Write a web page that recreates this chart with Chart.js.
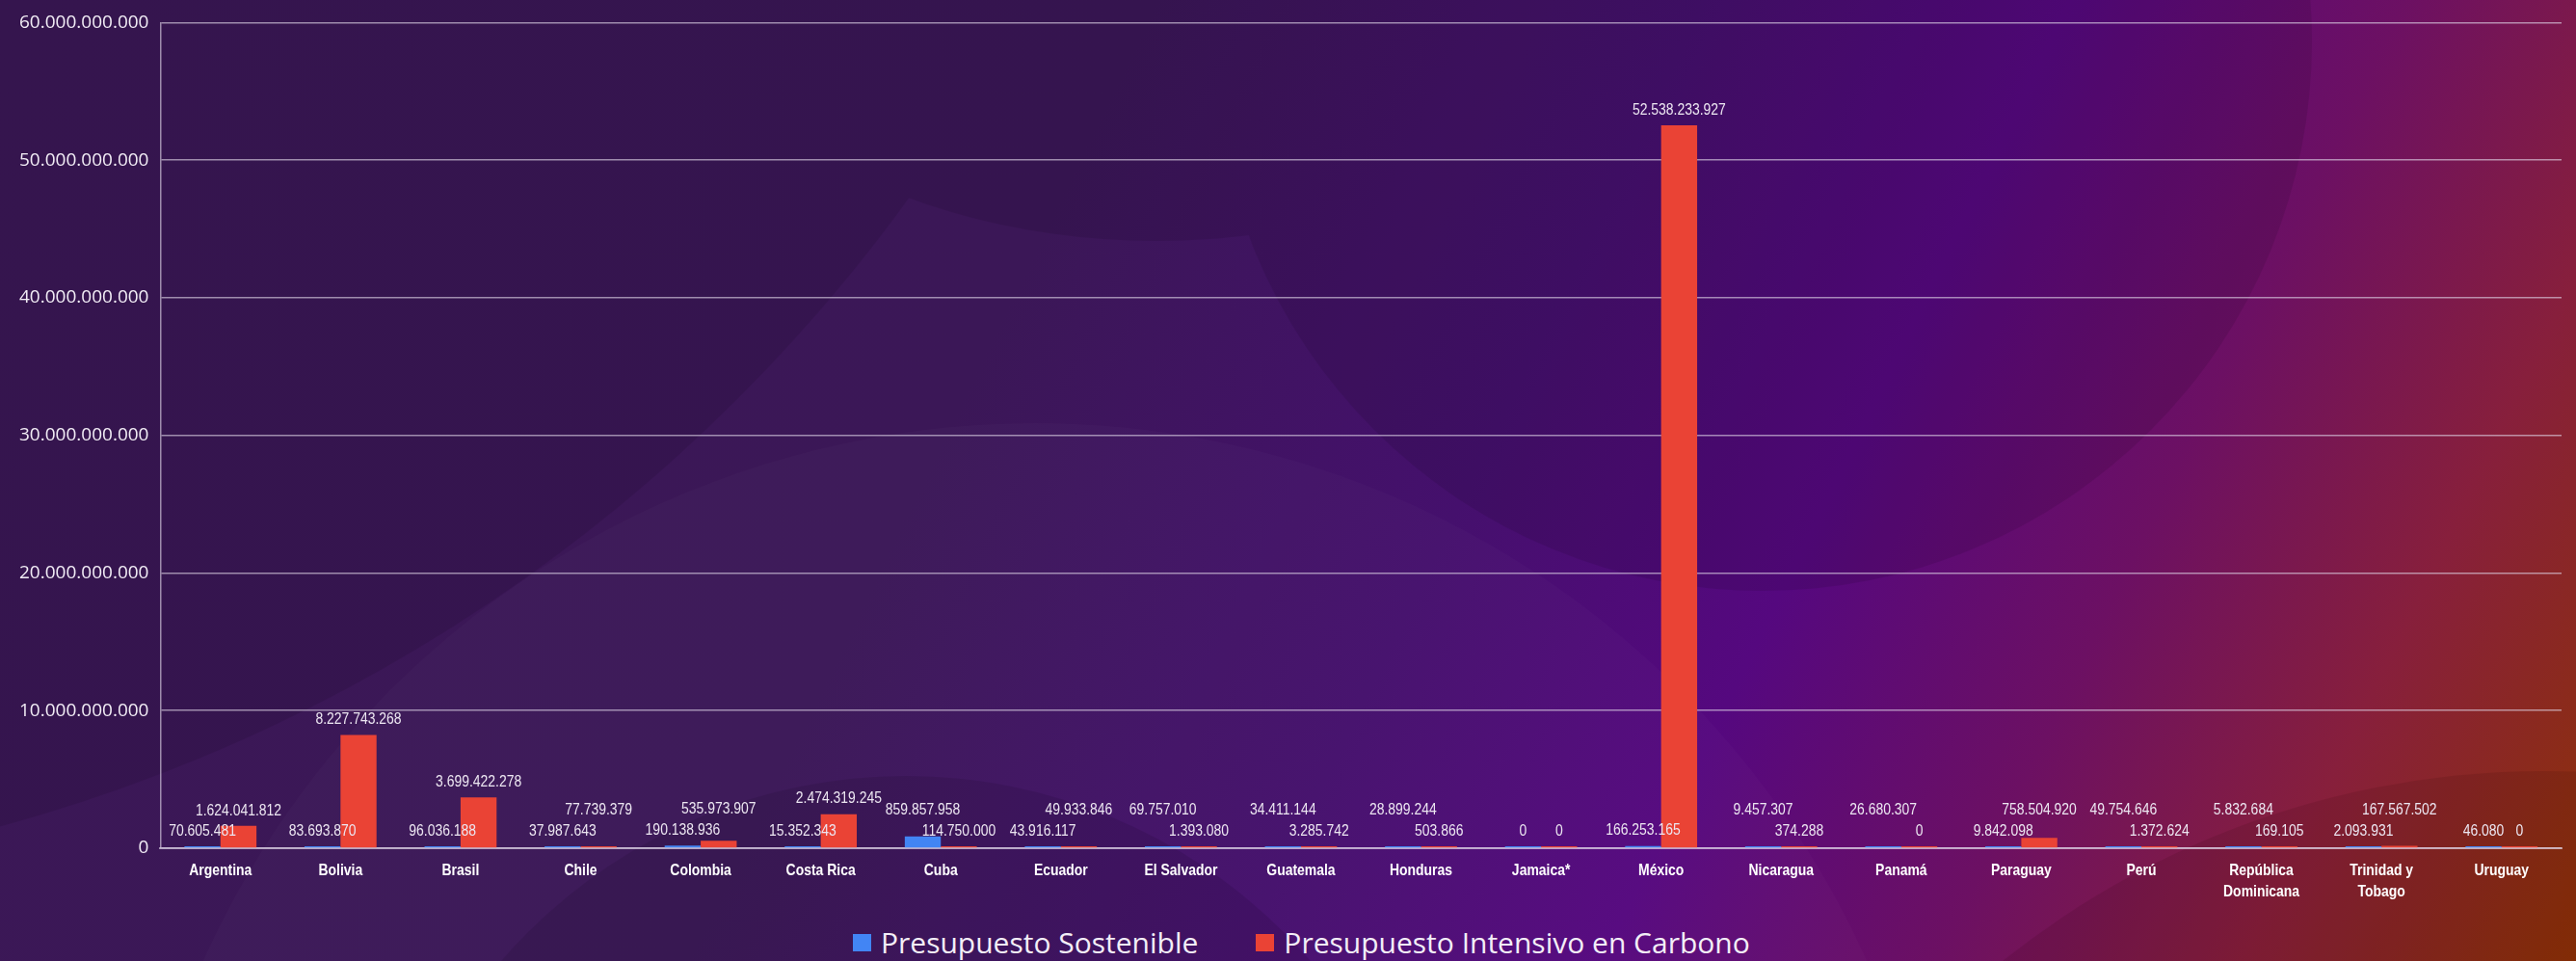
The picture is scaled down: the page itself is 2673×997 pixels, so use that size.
<!DOCTYPE html>
<html lang="es">
<head>
  <meta charset="UTF-8">
  <title>Presupuesto Sostenible vs Intensivo en Carbono</title>
  <script src="https://cdn.jsdelivr.net/npm/chart.js"></script>
  <style>
    html, body { margin: 0; padding: 0; }
    body {
      width: 2673px;
      height: 997px;
      overflow: hidden;
      position: relative;
      background: linear-gradient(116deg, #3b1856 0%, #3b1757 38%, #45106d 56%, #55087f 68%, #6c1063 79%, #871f3c 89%, #8e3206 100%);
      font-family: "Open Sans", sans-serif;
    }
    #shade { position: absolute; inset: 0; opacity: 0.1; overflow: hidden; }
    #shade div { position: absolute; border-radius: 50%; background: #0a0010; }
    #light { position: absolute; left: 127px; top: 439px; width: 1894px; height: 1894px; border-radius: 50%; background: rgba(255,235,255,0.02); }
    #wrap { position: absolute; left: 0; top: 0; width: 2673px; height: 952px; }
    #legend {
      position: absolute;
      left: 885px;
      top: 958px;
      display: flex;
      align-items: center;
      color: #f3eef7;
      font-size: 30px;
      line-height: 40px;
      white-space: nowrap;
    }
    #legend .item { display: flex; align-items: center; margin-right: 60px; }
    #legend .box { width: 19px; height: 18px; margin-right: 10px; }
  </style>
</head>
<body>
  <!-- background shapes -->
  <div id="light"></div>
  <div id="shade">
    <div style="left:-2177px; top:-2530px; width:3448px; height:3448px"></div>
    <div style="left:640px; top:-550px; width:1120px; height:800px"></div>
    <div style="left:1259px; top:-527px; width:1140px; height:1140px"></div>
    <div style="left:385px; top:805px; width:1110px; height:1110px"></div>
    <div style="left:1740px; top:800px; width:1800px; height:1800px; background:#200000"></div>
  </div>

  <div id="wrap"><canvas id="chart" width="2673" height="952"></canvas></div>
  <div id="legend"></div>

  <script>
// categories and series
const countries = [
  'Argentina', 'Bolivia', 'Brasil', 'Chile', 'Colombia', 'Costa Rica', 'Cuba', 'Ecuador',
  'El Salvador', 'Guatemala', 'Honduras', 'Jamaica*', 'México', 'Nicaragua', 'Panamá',
  'Paraguay', 'Perú', ['República', 'Dominicana'], ['Trinidad y', 'Tobago'], 'Uruguay'
];
const sostenible = [
  70605481, 83693870, 96036188, 37987643, 190138936, 15352343, 859857958, 43916117,
  69757010, 34411144, 28899244, 0, 166253165, 9457307, 26680307,
  9842098, 49754646, 5832684, 2093931, 46080
];
const intensivo = [
  1624041812, 8227743268, 3699422278, 77739379, 535973907, 2474319245, 114750000, 49933846,
  1393080, 3285742, 503866, 0, 52538233927, 374288, 0,
  758504920, 1372624, 169105, 167567502, 0
];
const seriesNames = ['Presupuesto Sostenible', 'Presupuesto Intensivo en Carbono'];
const seriesColors = ['#4285F4', '#EA4335'];
const yMax = 60000000000;
const yStep = 10000000000;

const gridColor = 'rgba(225,215,232,0.62)';
const textColor = '#f1ecf5';
const sans = '"Liberation Sans", Arial, sans-serif';
const squeeze = 0.82;   // condensed look of the small labels
const xPad = 12;
const xLine = 22;

// 1234567 -> 1.234.567
function fmt(v) {
  return String(v).replace(/\B(?=(\d{3})+(?!\d))/g, '.');
}

function narrowText(ctx, text, x, y) {
  ctx.save();
  ctx.translate(x, y);
  ctx.scale(squeeze, 1);
  ctx.fillText(text, 0, 0);
  ctx.restore();
}

// value labels above bars, the bigger one lifted when the pair collides
const valueLabels = {
  id: 'valueLabels',
  afterDatasetsDraw(chart) {
    const ctx = chart.ctx;
    ctx.save();
    ctx.font = '17px ' + sans;
    ctx.fillStyle = '#ece6f1';
    ctx.textAlign = 'center';
    ctx.textBaseline = 'middle';
    chart.data.labels.forEach((_, i) => {
      const items = [0, 1].map(d => {
        const bar = chart.getDatasetMeta(d).data[i];
        const v = chart.data.datasets[d].data[i];
        const text = fmt(v);
        return { x: bar.x, y: Math.min(bar.y, bar.base) - 16, w: ctx.measureText(text).width * squeeze, text, v };
      });
      const [a, b] = items;
      if (Math.abs(a.x - b.x) < (a.w + b.w) / 2 + 2 && Math.abs(a.y - b.y) < 18) {
        const hi = a.v >= b.v ? a : b;
        const lo = hi === a ? b : a;
        hi.y = Math.min(hi.y, lo.y - 22);
      }
      items.forEach(it => narrowText(ctx, it.text, it.x, it.y));
    });
    ctx.restore();
  }
};

// condensed bold category labels under the x axis
const categoryLabels = {
  id: 'categoryLabels',
  afterDraw(chart) {
    const ctx = chart.ctx;
    const xs = chart.scales.x;
    ctx.save();
    ctx.font = 'bold 17px ' + sans;
    ctx.fillStyle = '#ffffff';
    ctx.textAlign = 'center';
    ctx.textBaseline = 'middle';
    chart.data.labels.forEach((lab, i) => {
      const lines = Array.isArray(lab) ? lab : [lab];
      const x = xs.getPixelForTick(i);
      lines.forEach((t, k) => narrowText(ctx, t, x, xs.top + xPad + xLine * (k + 0.5)));
    });
    ctx.restore();
  }
};

const chart = new Chart(document.getElementById('chart'), {
  type: 'bar',
  data: {
    labels: countries,
    datasets: [
      { label: seriesNames[0], data: sostenible, backgroundColor: seriesColors[0] },
      { label: seriesNames[1], data: intensivo, backgroundColor: seriesColors[1] }
    ]
  },
  options: {
    responsive: false,
    animation: false,
    devicePixelRatio: 1,
    layout: { padding: { left: 8, right: 15, top: 10, bottom: 4 } },
    datasets: { bar: { categoryPercentage: 0.6, barPercentage: 1.0, minBarLength: 2 } },
    plugins: { legend: { display: false }, tooltip: { enabled: false } },
    scales: {
      x: {
        grid: { display: false, drawTicks: false },
        border: { display: true, color: gridColor, width: 2 },
        ticks: {
          color: 'rgba(0,0,0,0)',
          padding: xPad,
          autoSkip: false,
          maxRotation: 0,
          font: { family: sans, size: 17, weight: 'bold', lineHeight: xLine / 17 }
        }
      },
      y: {
        min: 0,
        max: yMax,
        grid: { color: gridColor, lineWidth: 1.5, drawTicks: false },
        border: { display: true, color: gridColor, width: 1.5 },
        ticks: {
          stepSize: yStep,
          padding: 12,
          color: textColor,
          font: { family: '"Open Sans", sans-serif', size: 19 },
          callback: v => fmt(v)
        }
      }
    }
  },
  plugins: [valueLabels, categoryLabels]
});

// legend
const legend = document.getElementById('legend');
chart.data.datasets.forEach(ds => {
  const item = document.createElement('div');
  item.className = 'item';
  item.innerHTML = '<span class="box" style="background:' + ds.backgroundColor + '"></span><span>' + ds.label + '</span>';
  legend.appendChild(item);
});
  </script>
</body>
</html>
